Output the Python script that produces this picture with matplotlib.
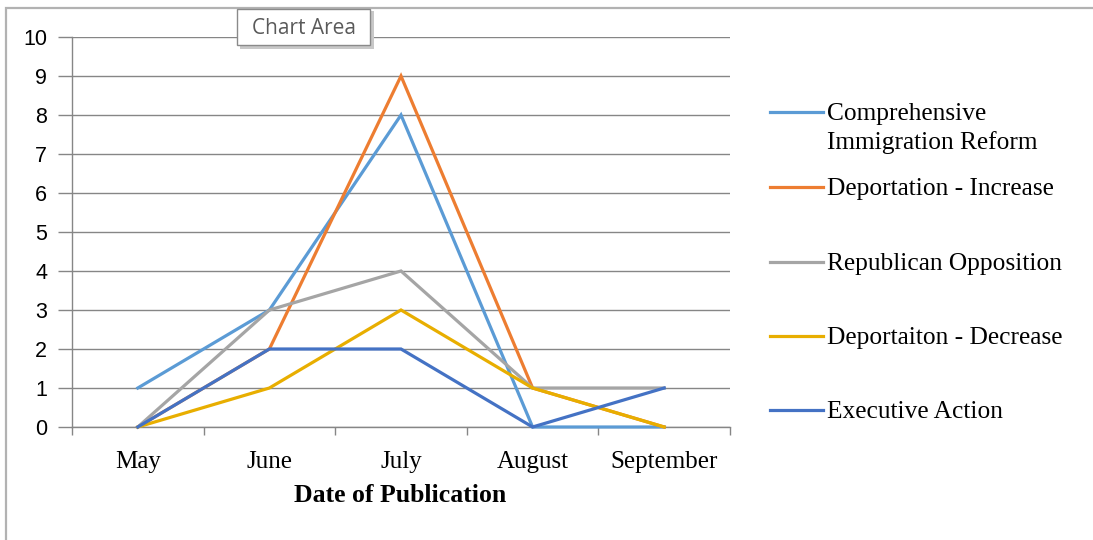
import matplotlib
matplotlib.use("Agg")
import matplotlib.pyplot as plt
from matplotlib.lines import Line2D
from matplotlib.patches import Rectangle

# data
months = ["May", "June", "July", "August", "September"]
series_names = [
    "Comprehensive\nImmigration Reform",
    "Deportation - Increase",
    "Republican Opposition",
    "Deportaiton - Decrease",
    "Executive Action",
]
comprehensive_reform = [1, 3, 8, 0, 0]
deportation_increase = [0, 2, 9, 1, 0]
republican_opposition = [0, 3, 4, 1, 1]
deportation_decrease = [0, 1, 3, 1, 0]
executive_action = [0, 2, 2, 0, 1]

series_values = [comprehensive_reform, deportation_increase, republican_opposition,
                 deportation_decrease, executive_action]
colors = ["#5B9BD5", "#ED7D31", "#A5A5A5", "#E8AE00", "#4472C4"]

W, H = 1093, 540
fig = plt.figure(figsize=(W / 100, H / 100), dpi=100)


def fx(px):
    return px / W


def fy(py):
    return 1 - py / H


# chart area border (right and bottom edges fall outside the picture)
fig.add_artist(Rectangle((fx(6), fy(560)), fx(1120) - fx(6), fy(8) - fy(560),
                         transform=fig.transFigure, fill=False,
                         edgecolor="#b2b2b2", linewidth=1.6))

ax = fig.add_axes([fx(72), fy(427), fx(730) - fx(72), fy(37) - fy(427)])
x = list(range(len(months)))

for vals, c in zip(series_values, colors):
    ax.plot(x, vals, color=c, linewidth=2.3, solid_joinstyle="miter", zorder=3,
            clip_on=False)

ax.set_xlim(-0.5, len(months) - 0.5)
ax.set_ylim(0, 10)
ax.set_yticks(range(0, 11))
ax.yaxis.grid(True, color="#868686", linewidth=1.0)
ax.set_axisbelow(True)

# category labels centered, tick marks between categories
ax.set_xticks([i - 0.5 for i in range(len(months) + 1)])
ax.set_xticklabels([])
ax.set_xticks(x, minor=True)
ax.set_xticklabels(months, minor=True, fontfamily="Liberation Serif", fontsize=18)
ax.tick_params(axis="x", which="minor", length=0, pad=17)
ax.tick_params(axis="x", which="major", length=6, color="#868686", width=1.0)
ax.tick_params(axis="y", length=10, color="#868686", width=1.0, pad=8,
               labelsize=15.5)
for lab in ax.get_yticklabels():
    lab.set_fontfamily("Liberation Sans")

for side in ("top", "right"):
    ax.spines[side].set_visible(False)
for side in ("left", "bottom"):
    ax.spines[side].set_color("#868686")
    ax.spines[side].set_linewidth(1.0)

fig.text(fx(400), fy(496), "Date of Publication", ha="center", va="center",
         fontfamily="Liberation Serif", fontweight="bold", fontsize=18.5)

# legend, drawn by hand to keep the Excel layout
legend_y = [112, 187, 262, 336, 410]
for name, c, ly in zip(series_names, colors, legend_y):
    fig.add_artist(Line2D([fx(770), fx(823)], [fy(ly), fy(ly)], color=c,
                          linewidth=2.3, transform=fig.transFigure))
    fig.text(fx(827), fy(ly - 9), name, ha="left", va="top",
             fontfamily="Liberation Serif", fontsize=18.3, linespacing=1.35)

# "Chart Area" tooltip
fig.add_artist(Rectangle((fx(240), fy(49)), fx(134), fy(10) - fy(48),
                         transform=fig.transFigure, facecolor="#c8c8c8",
                         edgecolor="none", zorder=9))
fig.add_artist(Rectangle((fx(237), fy(45)), fx(133), fy(9) - fy(45),
                         transform=fig.transFigure, facecolor="white",
                         edgecolor="#8a8a8a", linewidth=1.0, zorder=10))
fig.text(fx(304), fy(28), "Chart Area", ha="center", va="center",
         fontfamily="Open Sans", fontsize=15, color="#5a5a5a", zorder=11)

fig.savefig("out.png", dpi=100)
